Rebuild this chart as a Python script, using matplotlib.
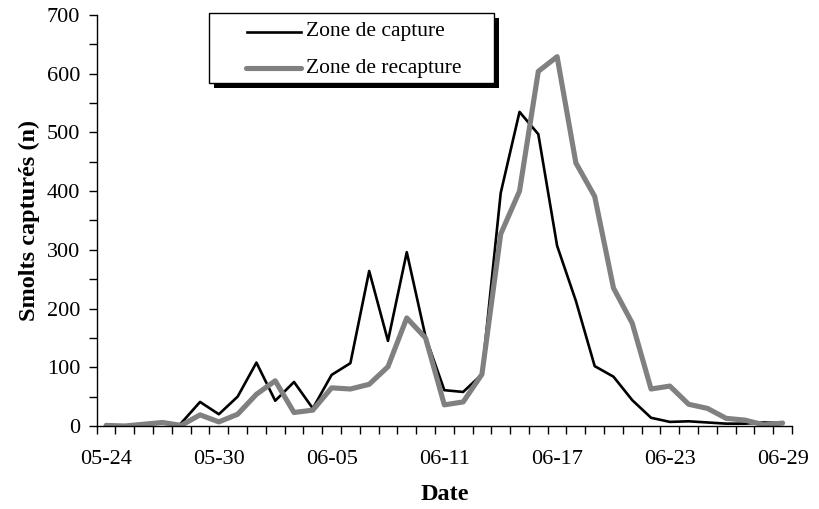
import matplotlib
matplotlib.use("Agg")
import matplotlib.pyplot as plt
import numpy as np
from matplotlib.patches import Rectangle
from matplotlib.lines import Line2D

plt.rcParams['font.family'] = ['Liberation Serif', 'DejaVu Serif']

# Daily counts, 05-24 to 06-29
dates = ["05-24", "05-25", "05-26", "05-27", "05-28", "05-29", "05-30", "05-31",
         "06-01", "06-02", "06-03", "06-04", "06-05", "06-06", "06-07", "06-08",
         "06-09", "06-10", "06-11", "06-12", "06-13", "06-14", "06-15", "06-16",
         "06-17", "06-18", "06-19", "06-20", "06-21", "06-22", "06-23", "06-24",
         "06-25", "06-26", "06-27", "06-28", "06-29"]
capture = [np.nan, np.nan, np.nan, np.nan, 5, 41, 20, 50,
           108, 43, 75, 30, 87, 107, 264, 145,
           296, 152, 61, 58, 88, 397, 535, 497,
           307, 213, 102, 84, 44, 14, 7, 8,
           6, 4, 4, 6, 5]
recapture = [1, 0, 3, 6, 1, 19, 7, 20,
             54, 77, 23, 27, 65, 63, 71, 101,
             184, 150, 36, 41, 88, 327, 400, 604,
             629, 448, 391, 235, 175, 63, 68, 37,
             30, 13, 10, 2, 5]
labels = ["Zone de capture", "Zone de recapture"]

W, H = 819, 509
fig = plt.figure(figsize=(W / 100, H / 100), dpi=100)
ax = fig.add_axes([96.7 / W, 1 - 426 / H, (792 - 96.7) / W, (426 - 15) / H])

x = np.arange(len(dates))
ax.plot(x, capture, color="black", lw=1.9)
ax.plot(x, recapture, color="#808080", lw=3.7, solid_capstyle="round")

ax.set_xlim(-0.5, len(dates) - 0.5)
ax.set_ylim(0, 700)

# category-style x axis: ticks between days, labels every 6 days
ax.set_xticks(np.arange(-0.5, len(dates), 1.0))
ax.set_xticklabels([])
ax.set_xticks(x[::6], minor=True)
ax.set_xticklabels([dates[i] for i in x[::6]], minor=True)
ax.tick_params(axis="x", which="major", length=6, width=1, direction="out")
ax.tick_params(axis="x", which="minor", length=0, pad=17, labelsize=16)

ax.set_yticks(np.arange(0, 701, 100))
ax.set_yticks(np.arange(50, 701, 100), minor=True)
ax.tick_params(axis="y", which="both", length=6, width=1, direction="out", labelsize=16, pad=6)

for s in ["top", "right"]:
    ax.spines[s].set_visible(False)
for s in ["left", "bottom"]:
    ax.spines[s].set_linewidth(1)

ax.set_xlabel("Date", fontsize=17.5, fontweight="bold", labelpad=11)
ax.set_ylabel("Smolts capturés (n)", fontsize=17.5, fontweight="bold", labelpad=5)

# legend box with solid offset shadow, drawn in pixel coords
def fx(px):
    return px / W

def fy(py):
    return 1 - py / H

fig.patches.append(Rectangle((fx(214), fy(88)), fx(494 - 209), (83 - 12.7) / H,
                             transform=fig.transFigure, facecolor="black",
                             edgecolor="none", zorder=5))
fig.patches.append(Rectangle((fx(209), fy(83)), fx(494 - 209), (83 - 12.7) / H,
                             transform=fig.transFigure, facecolor="white",
                             edgecolor="black", lw=1, zorder=6))
fig.lines.append(Line2D([fx(247), fx(301)], [fy(31.7), fy(31.7)],
                        transform=fig.transFigure, color="black", lw=1.9, zorder=7))
fig.lines.append(Line2D([fx(246), fx(301)], [fy(68), fy(68)],
                        transform=fig.transFigure, color="#808080", lw=3.7,
                        solid_capstyle="round", zorder=7))
fig.text(fx(306), fy(31.7), labels[0], fontsize=15.5, va="center", ha="left", zorder=8)
fig.text(fx(306), fy(68), labels[1], fontsize=15.5, va="center", ha="left", zorder=8)

fig.savefig("out.png", dpi=100)
